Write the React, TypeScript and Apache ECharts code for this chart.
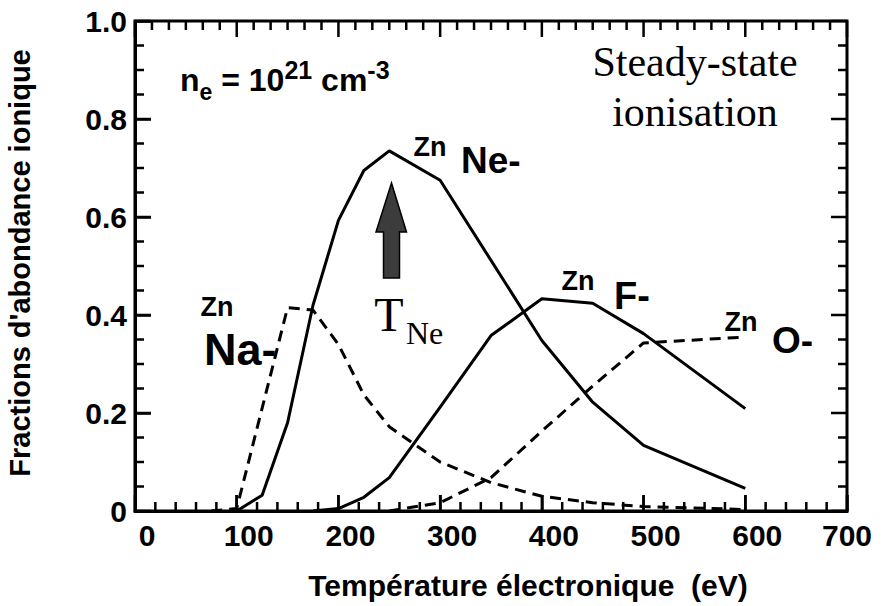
import React, { useEffect, useRef } from "react";
import * as echarts from "echarts";

// Temperatures (eV) and ionic fractions
const naTemps = [75, 100, 125, 150, 175, 200, 225, 250, 300, 350, 400, 450, 500, 600];
const naValues = [0, 0.005, 0.21, 0.415, 0.41, 0.34, 0.237, 0.172, 0.1, 0.058, 0.03, 0.017, 0.009, 0.003];

const neTemps = [100, 125, 150, 175, 200, 225, 250, 300, 400, 450, 500, 600];
const neValues = [0, 0.032, 0.18, 0.42, 0.593, 0.695, 0.735, 0.675, 0.348, 0.222, 0.134, 0.046];

const fTemps = [175, 200, 225, 250, 300, 350, 400, 450, 500, 600];
const fValues = [0, 0.005, 0.028, 0.068, 0.212, 0.358, 0.433, 0.424, 0.362, 0.209];

const oTemps = [250, 300, 350, 400, 450, 500, 600];
const oValues = [0, 0.017, 0.068, 0.163, 0.255, 0.343, 0.355];

// axis ticks
const xTicks = [0, 100, 200, 300, 400, 500, 600, 700];
const yTicks = [0, 0.2, 0.4, 0.6, 0.8, 1.0];
const xMinorPerMajorBottom = 5;
const xMinorPerMajorTop = 6;
const yMinorPerMajor = 4;

const xTitle = "Température électronique  (eV)";
const yTitle = "Fractions d'abondance ionique";

const pairs = (xs: number[], ys: number[]) => xs.map((x, i) => [x, ys[i]]);

const subdivide = (ticks: number[], n: number) => {
  const out: number[] = [];
  for (let i = 0; i < ticks.length - 1; i++) {
    for (let k = 1; k < n; k++) out.push(ticks[i] + ((ticks[i + 1] - ticks[i]) * k) / n);
  }
  return out;
};

const SANS = "'Liberation Sans', Arial, Helvetica, sans-serif";
const SERIF = "'Liberation Serif', 'Times New Roman', serif";

export default function App() {
  const ref = useRef<HTMLDivElement>(null);
  useEffect(() => {
    document.body.style.margin = "0";
    const chart = echarts.init(ref.current!, undefined, { renderer: "svg" });
    const lblStyle = { fontFamily: SANS, fontWeight: "bold" as const, fontSize: 30, color: "#000" };

    const xMin = xTicks[0];
    const xMax = xTicks[xTicks.length - 1];
    const yMin = yTicks[0];
    const yMax = yTicks[yTicks.length - 1];
    const MAJOR = 16;
    const MINOR = 9;
    const TW = 2.5;

    const lineSeries = (name: string, xs: number[], ys: number[], dashed: boolean) => ({
      name,
      type: "line",
      data: pairs(xs, ys),
      showSymbol: false,
      symbol: "none",
      lineStyle: { color: "#000", width: 3, type: dashed ? [11, 7] : "solid" },
    });

    const txt = (x: number, y: number, text: string, fontSize: number, family: string, bold: boolean, align = "center") => ({
      type: "text",
      x,
      y,
      z: 20,
      style: { text, fontFamily: family, fontWeight: bold ? "bold" : "normal", fontSize, fill: "#000", align, verticalAlign: "middle" },
    });

    const annotations: any[] = [
      {
        type: "text",
        x: 20,
        y: 263,
        rotation: Math.PI / 2,
        style: { text: yTitle, fontFamily: SANS, fontWeight: "bold", fontSize: 29, fill: "#000", align: "center", verticalAlign: "middle" },
      },
      txt(528, 585, xTitle, 30, SANS, true),
      {
        type: "text",
        x: 180,
        y: 57,
        style: {
          text: "{n|n}{s|e}{n| = 10}{p|21}{n| cm}{p|-3}",
          align: "left",
          verticalAlign: "top",
          rich: {
            n: { fontFamily: SANS, fontWeight: "bold", fontSize: 32, lineHeight: 46, fill: "#000" },
            s: { fontFamily: SANS, fontWeight: "bold", fontSize: 23, lineHeight: 22, verticalAlign: "bottom", fill: "#000" },
            p: { fontFamily: SANS, fontWeight: "bold", fontSize: 25, lineHeight: 34, verticalAlign: "top", fill: "#000" },
          },
        },
      },
      txt(695, 62, "Steady-state", 42, SERIF, false),
      txt(695, 112, "ionisation", 42, SERIF, false),
      // species labels
      txt(430, 147, "Zn", 27, SANS, true),
      txt(461, 160, "Ne-", 37, SANS, true, "left"),
      txt(578, 281, "Zn", 27, SANS, true),
      txt(614, 296, "F-", 38, SANS, true, "left"),
      txt(741, 322, "Zn", 27, SANS, true),
      txt(772, 340, "O-", 37, SANS, true, "left"),
      txt(217, 307, "Zn", 27, SANS, true),
      txt(204, 349, "Na-", 45, SANS, true, "left"),
      // T_Ne with arrow
      txt(389, 314, "T", 48, SERIF, false),
      txt(406, 333, "Ne", 32, SERIF, false, "left"),
      {
        type: "polygon",
        shape: {
          points: [
            [391.5, 183],
            [406.5, 232],
            [399.5, 232],
            [399.5, 278],
            [383.5, 278],
            [383.5, 232],
            [376, 232],
          ],
        },
        style: { fill: "#3c3c3c", stroke: "#000", lineWidth: 1.5 },
      },
    ];

    const option: any = {
      animation: false,
      backgroundColor: "#fff",
      grid: { left: 135, right: 42, top: 21, bottom: 95, show: true, borderColor: "#000", borderWidth: 3, backgroundColor: "transparent" },
      xAxis: {
        type: "value",
        min: xMin,
        max: xMax,
        interval: 100,
        axisLine: { show: true, onZero: false, lineStyle: { color: "#000", width: 3 } },
        axisTick: { show: true, inside: true, length: MAJOR, lineStyle: { color: "#000", width: TW } },
        splitLine: { show: false },
        axisLabel: {
          show: true,
          margin: 9,
          formatter: (v: number) => (v === 700 ? `{b|${v}}` : `{a|${v}}`),
          rich: {
            a: { ...lblStyle, padding: [0, 0, 0, 24] },
            b: { ...lblStyle },
          },
        },
      },
      yAxis: {
        type: "value",
        min: yMin,
        max: yMax,
        interval: 0.2,
        axisLine: { show: true, onZero: false, lineStyle: { color: "#000", width: 3 } },
        axisTick: { show: true, inside: true, length: MAJOR, lineStyle: { color: "#000", width: TW } },
        splitLine: { show: false },
        axisLabel: {
          show: true,
          ...lblStyle,
          margin: 8,
          formatter: (v: number) => (v === 0 ? "0" : v.toFixed(1)),
        },
      },
      series: [
        lineSeries("Na-", naTemps, naValues, true),
        lineSeries("Ne-", neTemps, neValues, false),
        lineSeries("F-", fTemps, fValues, false),
        lineSeries("O-", oTemps, oValues, true),
      ],
      graphic: annotations,
    };
    chart.setOption(option);

    // inward-pointing ticks on all four sides (incl. minor ones), positioned through the axes' scales
    try {
      const toPx = (x: number, y: number) => chart.convertToPixel({ xAxisIndex: 0, yAxisIndex: 0 }, [x, y]) as any;
      const tickEls: any[] = [];
      const ok = (p: any) => p && isFinite(p[0]) && isFinite(p[1]);
      const vTick = (x: number, yVal: number, len: number) => {
        const p = toPx(x, yVal);
        if (!ok(p)) return;
        tickEls.push({
          type: "rect",
          z: 30,
          shape: { x: p[0] - TW / 2, y: len < 0 ? p[1] + len : p[1], width: TW, height: Math.abs(len) },
          style: { fill: "#000" },
        });
      };
      const hTick = (y: number, xVal: number, len: number) => {
        const p = toPx(xVal, y);
        if (!ok(p)) return;
        tickEls.push({
          type: "rect",
          z: 30,
          shape: { x: len < 0 ? p[0] + len : p[0], y: p[1] - TW / 2, width: Math.abs(len), height: TW },
          style: { fill: "#000" },
        });
      };
      xTicks.forEach((x) => {
        vTick(x, yMin, -MAJOR);
        vTick(x, yMax, MAJOR);
      });
      subdivide(xTicks, xMinorPerMajorBottom).forEach((x) => vTick(x, yMin, -MINOR));
      subdivide(xTicks, xMinorPerMajorTop).forEach((x) => vTick(x, yMax, MINOR));
      yTicks.forEach((y) => {
        hTick(y, xMin, MAJOR);
        hTick(y, xMax, -MAJOR);
      });
      subdivide(yTicks, yMinorPerMajor).forEach((y) => {
        hTick(y, xMin, MINOR);
        hTick(y, xMax, -MINOR);
      });
      chart.setOption({ graphic: annotations.concat(tickEls) });
    } catch (e) {
      // keep the chart without the extra ticks
    }

    return () => chart.dispose();
  }, []);
  return <div ref={ref} style={{ position: "fixed", left: 0, top: 0, width: 889, height: 606 }} />;
}
